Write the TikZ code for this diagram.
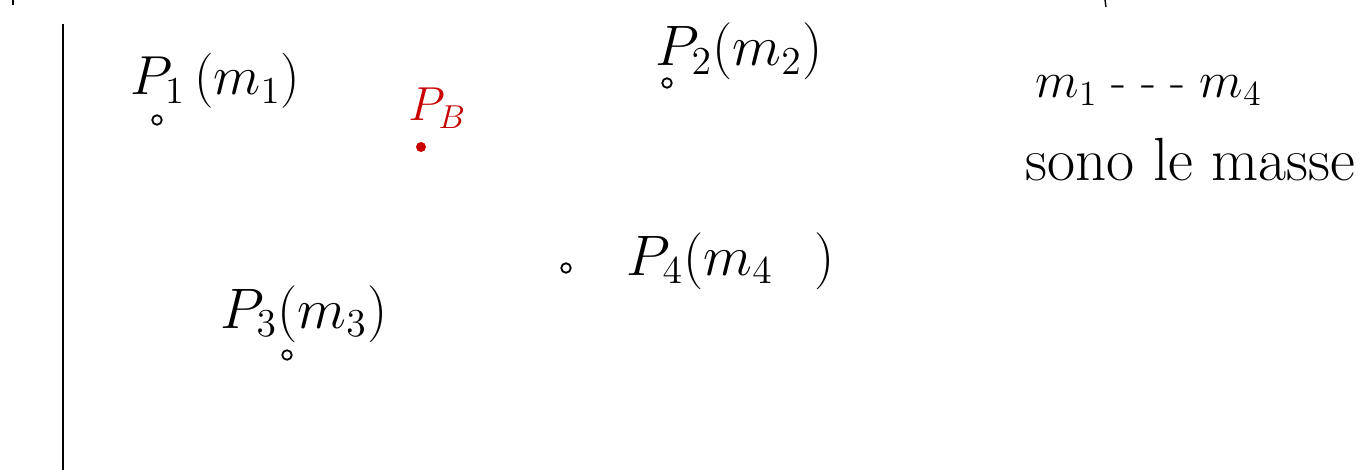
\documentclass[tikz,border=0pt]{standalone}
\begin{document}
\begin{tikzpicture}[x=1pt,y=-1pt,
  lbl/.style={anchor=base west,inner sep=0pt,font=\fontsize{20}{24}\selectfont},
  pt/.style={circle,draw=black,line width=1.8pt,minimum size=9.5pt,inner sep=0pt},
  ptred/.style={circle,fill=redink,minimum size=10pt,inner sep=0pt}]
\definecolor{redink}{RGB}{200,0,0}
\useasboundingbox (0,0) rectangle (1372,470);
\coordinate (vtop) at (63,24);
\coordinate (vbot) at (63,470);
\draw[line width=1.6pt] (vtop) -- (vbot);
\coordinate (ma) at (13,0); \coordinate (mb) at (13,5);
\draw[line width=1.4pt] (ma) -- (mb);
\coordinate (mc) at (1105,0); \coordinate (md) at (1106,7);
\draw[line width=1.4pt] (mc) -- (md);
% points
\node[pt] (d1) at (157,120) {};
\node[lbl,scale=2.65] (l1) at (130,95) {$P_1\,(m_1)$};
\node[pt] (d2) at (667,83) {};
\node[lbl,scale=2.75] (l2) at (655,66) {$P_2(m_2)$};
\node[pt] (d3) at (287,355) {};
\node[lbl,scale=2.75] (l3) at (220,328) {$P_3(m_3)$};
\node[pt] (d4) at (566,268) {};
\node[lbl,scale=2.75] (l4) at (626,275) {$P_4(m_4\;\;\,)$};
\node[ptred] (dB) at (421,147) {};
\node[lbl,text=redink,scale=2.3] (lB) at (408,121) {$P_B$};
% note
\node[lbl,scale=2.45] (n1) at (1035,98) {$m_1\;\textrm{- - -}\;m_4$};
\node[lbl,scale=3.05] (n2) at (1025,181) {sono le masse};
\end{tikzpicture}
\end{document}
